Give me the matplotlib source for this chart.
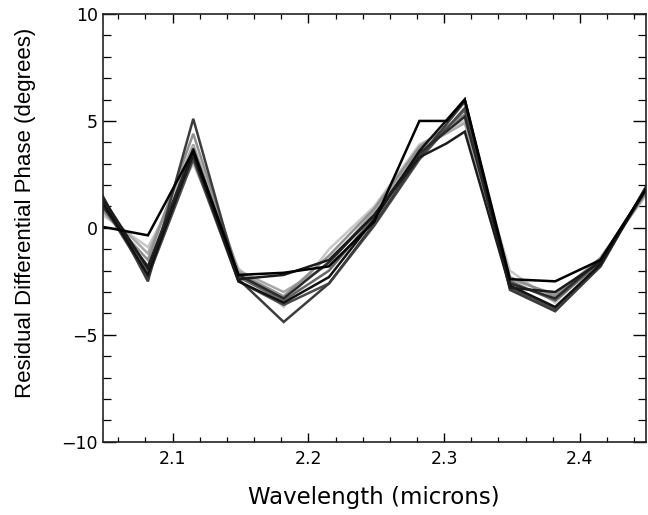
import matplotlib
matplotlib.use("Agg")
import matplotlib.pyplot as plt
from matplotlib.ticker import MultipleLocator, FuncFormatter

plt.rcParams['font.family'] = ['DejaVu Sans']

# Common wavelength grid (microns)
wavelengths = [2.0485, 2.0818, 2.1152, 2.1485, 2.1818, 2.2152, 2.2485,
               2.2818, 2.3152, 2.3485, 2.3818, 2.4152, 2.4485]

# Residual differential phase series (degrees)
phase_a = [1.5, -2.5, 5.1, -2.4, -4.4, -2.6, 0.2, 3.3, 5.9, -2.9, -3.9, -1.8, 1.9]
phase_b = [1.2, -2.2, 3.5, -2.5, -3.5, -2.3, 0.4, 3.6, 6.0, -2.7, -3.7, -1.7, 1.8]
phase_c = [0.8, -1.5, 4.4, -2.1, -3.2, -1.3, 0.9, 3.8, 5.3, -2.3, -3.2, -1.4, 1.6]
phase_d = [0.6, -0.9, 3.0, -1.9, -3.7, -1.0, 1.0, 3.9, 5.0, -2.0, -3.5, -1.4, 1.5]
phase_e = [1.3, -2.0, 3.3, -2.3, -3.4, -2.0, 0.5, 3.4, 5.5, -2.5, -3.4, -1.6, 1.7]
phase_f = [0.9, -1.2, 3.9, -2.0, -3.0, -1.7, 0.8, 3.7, 4.9, -2.4, -3.1, -1.5, 1.6]
phase_g = [1.1, -2.3, 3.2, -2.5, -3.6, -2.6, 0.1, 3.2, 5.6, -2.8, -3.8, -1.8, 1.9]
phase_h = [1.0, -1.8, 3.7, -2.2, -3.3, -1.6, 0.6, 3.5, 5.2, -2.6, -3.3, -1.5, 1.8]

# Two series sampled with an extra point near 2.30 microns
wavelengths_k = [2.0485, 2.0818, 2.1152, 2.1485, 2.1818, 2.2152, 2.2485,
                 2.2818, 2.3018, 2.3152, 2.3485, 2.3818, 2.4152, 2.4485]
phase_k1 = [0.05, -0.35, 3.6, -2.2, -2.1, -1.8, 0.3, 5.0, 5.0, 6.0, -2.4, -2.5, -1.5, 1.8]
phase_k2 = [1.4, -1.9, 3.4, -2.4, -2.2, -1.5, 0.6, 3.3, 3.95, 4.5, -2.8, -3.0, -1.6, 1.8]

series = [
    (wavelengths, phase_d, '#c8c8c8'),
    (wavelengths, phase_f, '#a8a8a8'),
    (wavelengths, phase_c, '#909090'),
    (wavelengths, phase_e, '#666666'),
    (wavelengths, phase_g, '#4a4a4a'),
    (wavelengths, phase_a, '#3c3c3c'),
    (wavelengths, phase_h, '#2a2a2a'),
    (wavelengths, phase_b, '#111111'),
    (wavelengths_k, phase_k2, '#1c1c1c'),
    (wavelengths_k, phase_k1, '#000000'),
]

fig = plt.figure(figsize=(6.48, 5.15), dpi=100)
ax = fig.add_axes([0.1585, 0.1423, 0.838, 0.8305])

for xs, ys, c in series:
    ax.plot(xs, ys, color=c, lw=1.8, solid_joinstyle='miter')

ax.set_xlim(2.0485, 2.4485)
ax.set_ylim(-10, 10)
ax.xaxis.set_major_locator(MultipleLocator(0.1))
ax.xaxis.set_minor_locator(MultipleLocator(0.02))
ax.yaxis.set_major_locator(MultipleLocator(5))
ax.yaxis.set_minor_locator(MultipleLocator(1))

ax.tick_params(axis='x', which='major', direction='in', length=6.5, width=1.0,
               top=True, bottom=True, labelsize=12.5, pad=6, colors='black')
ax.tick_params(axis='x', which='minor', direction='in', length=3.6, width=0.9,
               top=True, bottom=True)
ax.tick_params(axis='y', which='major', direction='in', length=9.4, width=1.0,
               left=True, right=True, labelsize=12.5, pad=3.5)
ax.tick_params(axis='y', which='minor', direction='in', length=5.8, width=0.9,
               left=True, right=True)
for s in ax.spines.values():
    s.set_linewidth(1.2)
    s.set_color('#222222')

ax.xaxis.set_major_formatter(FuncFormatter(lambda v, p: f"{v:.1f}"))

ax.set_xlabel("Wavelength (microns)", fontsize=16.5, family='DejaVu Sans')
ax.xaxis.label.set_va('center')
ax.xaxis.set_label_coords(0.5, -0.13)

ax.set_ylabel("Residual Differential Phase (degrees)", fontsize=16,
              family=['Liberation Sans', 'DejaVu Sans'])
ax.yaxis.label.set_va('center')
ax.yaxis.set_label_coords(-0.143, 0.535)

fig.savefig("out.png", dpi=100)
